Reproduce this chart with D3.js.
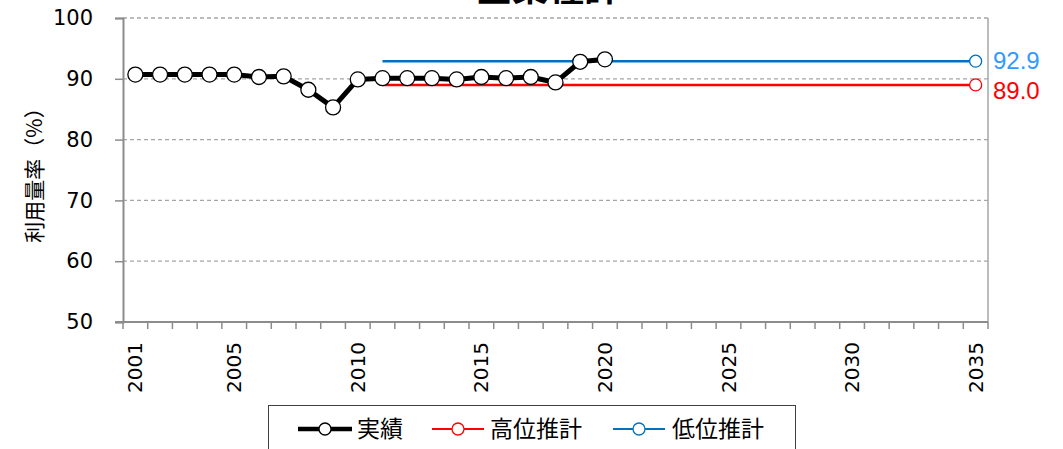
<!DOCTYPE html>
<html><head><meta charset="utf-8">
<script src="https://cdn.jsdelivr.net/npm/d3@7"></script>
<style>body{margin:0;background:#fff}svg{display:block}</style>
</head><body>
<svg id="c" width="1063" height="449"></svg>
<script>
const years = d3.range(2001, 2036);
const tickYears = [2001, 2005, 2010, 2015, 2020, 2025, 2030, 2035];
const yTicks = [50, 60, 70, 80, 90, 100];
const actualYears = [2001,2002,2003,2004,2005,2006,2007,2008,2009,2010,2011,2012,2013,2014,2015,2016,2017,2018,2019,2020];
const actualValues = [90.7,90.7,90.7,90.7,90.7,90.3,90.4,88.2,85.3,89.9,90.1,90.1,90.1,89.9,90.3,90.1,90.3,89.4,92.8,93.2];
const projYears = [2011, 2035];
const highValues = [89.0, 89.0];
const lowValues = [92.9, 92.9];
const seriesNames = ["実績", "高位推計", "低位推計"];
const titleText = "全業種計";
const yTitle = "利用量率（%）";

const svg = d3.select("#c");
const L = 123, R = 988, T = 18, B = 322;
const x = d3.scaleBand().domain(years).range([L, R]).padding(0);
const cx = d => x(d) + x.bandwidth() / 2;
const y = d3.scaleLinear().domain([50, 100]).range([B, T]);
const font = "'DejaVu Sans', sans-serif";
const lfont = "'Liberation Sans', Arial, sans-serif";
const jfont = "'Noto Sans CJK JP', sans-serif";

// title (clipped at top edge as in the reference)
svg.append("text").attr("x", 548).attr("y", 1).attr("text-anchor", "middle")
  .attr("font-family", jfont).attr("font-weight", "bold").attr("font-size", 36).text(titleText);

// gridlines
svg.append("g").selectAll("line").data(yTicks.filter(v => v > 50)).join("line")
  .attr("x1", L).attr("x2", R).attr("y1", d => y(d)).attr("y2", d => y(d))
  .attr("stroke", "#a6a6a6").attr("stroke-width", 1.3).attr("stroke-dasharray", "4,3");

// right border
svg.append("line").attr("x1", R).attr("x2", R).attr("y1", T).attr("y2", B)
  .attr("stroke", "#a6a6a6").attr("stroke-width", 1.5);

// y axis
const ya = svg.append("g").attr("transform", `translate(${L},0)`)
  .call(d3.axisLeft(y).tickValues(yTicks).tickSize(8).tickPadding(22).tickFormat(d3.format("d")));
ya.select(".domain").attr("stroke", "#8c8c8c").attr("stroke-width", 2);
ya.selectAll(".tick line").attr("stroke", "#8c8c8c").attr("stroke-width", 1.5);
ya.selectAll("text").attr("font-family", font).attr("font-size", 21).attr("fill", "#000");

// x axis
const xa = svg.append("g").attr("transform", `translate(0,${B})`);
xa.append("line").attr("x1", L - 8).attr("x2", R).attr("y1", 0).attr("y2", 0)
  .attr("stroke", "#8c8c8c").attr("stroke-width", 2);
xa.selectAll("line.tk").data(years.concat([null])).join("line").attr("class", "tk")
  .attr("x1", d => d === null ? R : x(d)).attr("x2", d => d === null ? R : x(d))
  .attr("y1", 0).attr("y2", 7).attr("stroke", "#8c8c8c").attr("stroke-width", 1.5);
xa.selectAll("text").data(tickYears).join("text")
  .attr("transform", d => `translate(${cx(d) + 7},${20}) rotate(-90)`)
  .attr("text-anchor", "end").attr("font-family", font).attr("font-size", 20).text(d => d);

// y title
svg.append("text").attr("transform", "translate(42,170) rotate(-90)").attr("text-anchor", "middle")
  .attr("font-family", jfont).attr("font-size", 21).text(yTitle);

const line = d3.line().x(d => cx(d[0])).y(d => y(d[1]));

// projections
const high = projYears.map((yr, i) => [yr, highValues[i]]);
const low = projYears.map((yr, i) => [yr, lowValues[i]]);
svg.append("path").attr("d", line(high)).attr("fill", "none").attr("stroke", "#ff0000").attr("stroke-width", 2.5);
svg.append("path").attr("d", line(low)).attr("fill", "none").attr("stroke", "#0070c0").attr("stroke-width", 2.5);
svg.append("circle").attr("cx", cx(2035)).attr("cy", y(highValues[1])).attr("r", 6)
  .attr("fill", "#fff").attr("stroke", "#ff0000").attr("stroke-width", 1.3);
svg.append("circle").attr("cx", cx(2035)).attr("cy", y(lowValues[1])).attr("r", 6)
  .attr("fill", "#fff").attr("stroke", "#0070c0").attr("stroke-width", 1.3);

// actual
const act = actualYears.map((yr, i) => [yr, actualValues[i]]);
svg.append("path").attr("d", line(act)).attr("fill", "none").attr("stroke", "#000").attr("stroke-width", 5)
  .attr("stroke-linejoin", "round");
svg.append("g").selectAll("circle").data(act).join("circle")
  .attr("cx", d => cx(d[0])).attr("cy", d => y(d[1])).attr("r", 7.5)
  .attr("fill", "#fff").attr("stroke", "#000").attr("stroke-width", 1.3);

// end labels
svg.append("text").attr("x", 993).attr("y", y(lowValues[1]) + 8).attr("font-family", lfont)
  .attr("font-size", 24).attr("fill", "#3399ff").text(d3.format(".1f")(lowValues[1]));
svg.append("text").attr("x", 993).attr("y", y(highValues[1]) + 14).attr("font-family", lfont)
  .attr("font-size", 24).attr("fill", "#ff0000").text(d3.format(".1f")(highValues[1]));

// legend
const lg = svg.append("g");
lg.append("rect").attr("x", 268.5).attr("y", 405.5).attr("width", 527).attr("height", 60)
  .attr("fill", "#fff").attr("stroke", "#404040").attr("stroke-width", 1);
const items = [
  {x1: 298, x2: 352, tx: 357, c: "#000", w: 4.5},
  {x1: 432, x2: 484, tx: 490, c: "#ff0000", w: 2},
  {x1: 613, x2: 665, tx: 672, c: "#0070c0", w: 2}
];
items.forEach((it, i) => {
  const ly = 429;
  lg.append("line").attr("x1", it.x1).attr("x2", it.x2).attr("y1", ly).attr("y2", ly)
    .attr("stroke", it.c).attr("stroke-width", it.w);
  lg.append("circle").attr("cx", (it.x1 + it.x2) / 2).attr("cy", ly).attr("r", 6)
    .attr("fill", "#fff").attr("stroke", it.c).attr("stroke-width", 1.3);
  lg.append("text").attr("x", it.tx).attr("y", ly + 8).attr("font-family", jfont)
    .attr("font-size", 23).text(seriesNames[i]);
});
</script>
</body></html>
